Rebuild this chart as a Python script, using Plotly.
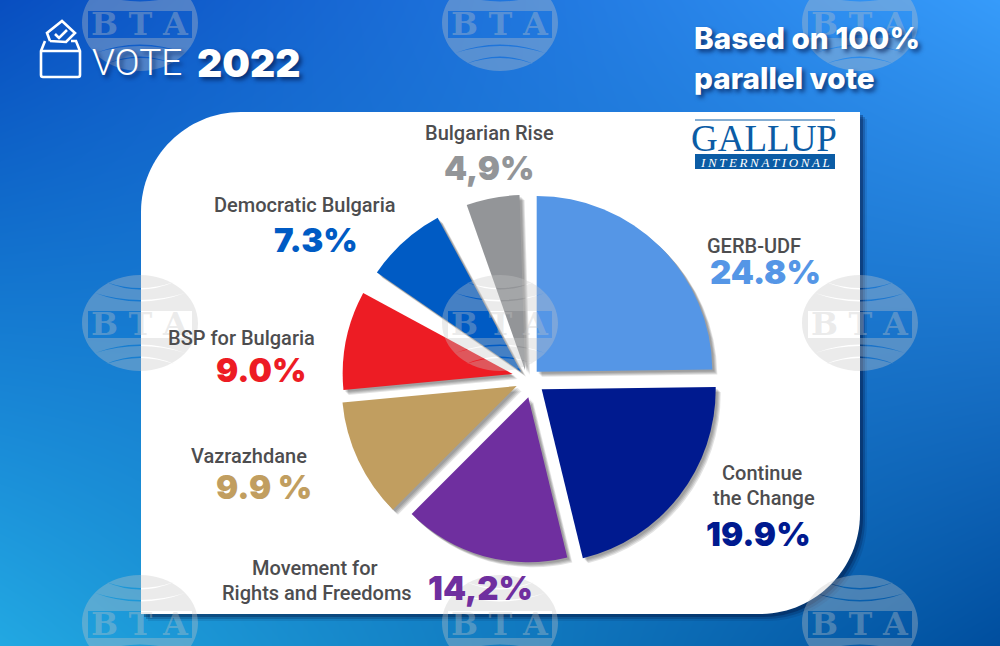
import base64
import struct
import zlib

import numpy as np
import plotly.graph_objects as go

WIDTH = 1000
HEIGHT = 646

# slice shares as measured on the drawn circle (the printed labels do not add up to 100),
# the empty names are the wider white gaps between slices
parties = ["GERB-UDF", "Continue the Change", "Movement for Rights and Freedoms", "Vazrazhdane",
           "BSP for Bulgaria", "", "Democratic Bulgaria", "", "Bulgarian Rise", ""]
slice_shares = [24.8, 21.4, 16.3, 11.0, 9.4, 1.7, 7.5, 2.5, 4.9, 0.5]
slice_colors = ["#5596e6", "#001a8f", "#6f2f9f", "#c19e60", "#ed1c24", None, "#005bc4", None, "#939598", None]

# every wedge is moved away from the centre on its own: tip x, tip y, radius
slice_tips = [(536.7, 371.7, 175.7), (541.7, 389.3, 174), (528.3, 397.3, 165), (516.7, 386, 175),
              (512.7, 374, 170), None, (521, 371.7, 175), None, (525, 370, 175), None]

NONE = "rgba(0,0,0,0)"
LABEL_GREY = "#4d4d4f"

party_labels = [
    ("Bulgarian Rise", 489, 133),
    ("Democratic Bulgaria", 305, 205),
    ("GERB-UDF", 754, 246),
    ("BSP for Bulgaria", 241, 338),
    ("Vazrazhdane", 249, 456),
    ("Continue", 762, 473),
    ("the Change", 764, 498),
    ("Movement for", 315, 568),
    ("Rights and Freedoms", 317, 593),
]
result_labels = [
    ("4,9%", 489, 168, "#939598"),
    ("7.3%", 316, 240, "#005bc4"),
    ("24.8%", 765, 272, "#5596e6"),
    ("9.0%", 261, 370, "#ed1c24"),
    ("9.9 %", 264, 487, "#c19e60"),
    ("19.9%", 758, 534, "#001a8f"),
    ("14,2%", 480, 588, "#6f2f9f"),
]

logo_columns = [140, 500, 860]
logo_rows = [23, 323, 623]


def pt(x, y):
    return f"{x / WIDTH:.5f},{1 - y / HEIGHT:.5f}"


def background_uri():
    # four corner colours blended across the page
    top_left = np.array([8, 78, 192.0])
    top_right = np.array([54, 155, 250.0])
    bottom_left = np.array([34, 168, 226.0])
    bottom_right = np.array([0, 78, 158.0])
    u = np.linspace(0, 1, WIDTH)[None, :, None]
    v = np.linspace(0, 1, HEIGHT)[:, None, None]
    rgb = (1 - v) * ((1 - u) * top_left + u * top_right) + v * ((1 - u) * bottom_left + u * bottom_right)
    rgb = rgb.round().astype(np.uint8)
    raw = b"".join(b"\x00" + row.tobytes() for row in rgb)

    def chunk(tag, data):
        body = tag + data
        return struct.pack(">I", len(data)) + body + struct.pack(">I", zlib.crc32(body))

    png = b"\x89PNG\r\n\x1a\n"
    png += chunk(b"IHDR", struct.pack(">IIBBBBB", WIDTH, HEIGHT, 8, 2, 0, 0, 0))
    png += chunk(b"IDAT", zlib.compress(raw, 9))
    png += chunk(b"IEND", b"")
    return "data:image/png;base64," + base64.b64encode(png).decode()


def panel_path(dx=0, dy=0):
    left, right, top, bottom, r = 141 + dx, 860 + dx, 112 + dy, 614 + dy, 100
    k = r * 0.45
    return (
        f"M{pt(left + r, top)} L{pt(right, top)} L{pt(right, bottom - r)} "
        f"C{pt(right, bottom - k)} {pt(right - k, bottom)} {pt(right - r, bottom)} "
        f"L{pt(left, bottom)} L{pt(left, top + r)} "
        f"C{pt(left, top + k)} {pt(left + k, top)} {pt(left + r, top)} Z"
    )


def logo_path(cx, cy):
    rx, ry = 58, 48
    kx, ky = rx * 0.5523, ry * 0.5523
    path = (
        f"M{pt(cx - rx, cy)} C{pt(cx - rx, cy - ky)} {pt(cx - kx, cy - ry)} {pt(cx, cy - ry)} "
        f"C{pt(cx + kx, cy - ry)} {pt(cx + rx, cy - ky)} {pt(cx + rx, cy)} "
        f"C{pt(cx + rx, cy + ky)} {pt(cx + kx, cy + ry)} {pt(cx, cy + ry)} "
        f"C{pt(cx - kx, cy + ry)} {pt(cx - rx, cy + ky)} {pt(cx - rx, cy)} Z "
    )
    # curved slits above and below the lettering
    for half, edge, dip in [(34, -41, 12), (45, -30, 14)]:
        for sign in (1, -1):
            y0 = cy + sign * edge
            y1 = cy + sign * (edge + dip)
            y2 = cy + sign * (edge + dip + 3)
            path += f"M{pt(cx - half, y0)} Q{pt(cx, y1)} {pt(cx + half, y0)} Q{pt(cx, y2)} {pt(cx - half, y0)} Z "
    # band behind the letters
    path += f"M{pt(cx - 52, cy - 12)} L{pt(cx + 52, cy - 12)} L{pt(cx + 52, cy + 15)} L{pt(cx - 52, cy + 15)} Z"
    return path


def wedge(index, color, cx, cy, radius):
    colors = [color if i == index else NONE for i in range(len(slice_shares))]
    return go.Pie(
        labels=parties,
        values=slice_shares,
        sort=False,
        direction="clockwise",
        rotation=0,
        textinfo="none",
        hoverinfo="skip",
        showlegend=False,
        marker=dict(colors=colors, line=dict(width=0)),
        domain=dict(
            x=[(cx - radius) / WIDTH, (cx + radius) / WIDTH],
            y=[1 - (cy + radius) / HEIGHT, 1 - (cy - radius) / HEIGHT],
        ),
    )


def note(text, x, y, size, color, family="Roboto", weight=500, **kwargs):
    return dict(
        text=text, x=x / WIDTH, y=1 - y / HEIGHT, xref="paper", yref="paper",
        showarrow=False, xanchor=kwargs.pop("xanchor", "center"), yanchor="middle",
        font=dict(family=family, size=size, color=color, weight=weight, **kwargs),
    )


fig = go.Figure()
for offset in (2, 3, 4, 5):
    for i, tip in enumerate(slice_tips):
        if tip:
            fig.add_trace(wedge(i, "rgba(0,0,0,0.11)", tip[0] + offset, tip[1] + offset, tip[2]))
for i, tip in enumerate(slice_tips):
    if tip:
        fig.add_trace(wedge(i, slice_colors[i], *tip))

shapes = []
for offset, alpha in [(7, 0.1), (5, 0.2), (3, 0.3)]:
    shapes.append(dict(type="path", xref="paper", yref="paper", layer="below", path=panel_path(offset, offset),
                       fillcolor=f"rgba(0,10,50,{alpha})", line=dict(width=0)))
shapes.append(dict(type="path", xref="paper", yref="paper", layer="below", path=panel_path(),
                   fillcolor="white", line=dict(width=0)))

# ballot box icon
icon = dict(type="path", xref="paper", yref="paper", fillcolor=NONE, line=dict(color="white", width=2.6))
shapes.append(dict(icon, path=f"M{pt(45, 41)} L{pt(41, 51)} L{pt(41, 75)} Q{pt(41, 77)} {pt(43, 77)} "
                              f"L{pt(78, 77)} Q{pt(80, 77)} {pt(80, 75)} L{pt(80, 51)} L{pt(76, 41)} L{pt(71, 41)}"))
shapes.append(dict(icon, path=f"M{pt(41, 51)} L{pt(80, 51)}"))
shapes.append(dict(icon, path=f"M{pt(50, 41)} L{pt(47, 33)} L{pt(62, 21)} L{pt(75, 33)} L{pt(66, 42)} L{pt(50, 41)}"))
shapes.append(dict(icon, path=f"M{pt(55, 34)} L{pt(59, 38)} L{pt(67, 30)}"))

# gallup logo
shapes.append(dict(type="line", xref="paper", yref="paper", x0=695 / WIDTH, x1=835 / WIDTH,
                   y0=1 - 120 / HEIGHT, y1=1 - 120 / HEIGHT, line=dict(color="#0b5ca5", width=1)))
shapes.append(dict(type="rect", xref="paper", yref="paper", x0=695 / WIDTH, x1=835 / WIDTH,
                   y0=1 - 169 / HEIGHT, y1=1 - 154 / HEIGHT, fillcolor="#0b5ca5", line=dict(width=0)))

for cy in logo_rows:
    for cx in logo_columns:
        shapes.append(dict(type="path", xref="paper", yref="paper", layer="above", path=logo_path(cx, cy),
                           fillcolor="rgba(198,198,198,0.35)", line=dict(width=0)))

annotations = []
for cy in logo_rows:
    for cx in logo_columns:
        annotations.append(note("B\u2004T\u2004A", cx, cy + 1, 32, "rgba(198,198,198,0.35)",
                                family="DejaVu Serif", weight=700))

for text, x, y in party_labels:
    annotations.append(note(text, x, y, 20, LABEL_GREY))
for text, x, y, color in result_labels:
    annotations.append(note(text, x, y, 33, color, family="Inter", weight=900))

TITLE_SHADOW = "3px 3px 4px rgba(0,20,70,0.65)"
annotations.append(note("VOTE", 137, 62, 37, "white", family="Roboto", weight=300, shadow=TITLE_SHADOW))
annotations.append(note("2022", 248, 62, 39, "white", family="Inter", weight=900, shadow=TITLE_SHADOW))
annotations.append(note("Based on 100%", 692, 38, 29.7, "white", family="Inter", weight=800,
                        xanchor="left", shadow=TITLE_SHADOW))
annotations.append(note("parallel vote", 692, 78, 29.7, "white", family="Inter", weight=800,
                        xanchor="left", shadow=TITLE_SHADOW))
annotations.append(note("GALLUP", 764, 138, 37, "#0b5ca5", family="Liberation Serif", weight=400))
annotations.append(note("<i>" + "\u2009".join("INTERNATIONAL") + "</i>", 765, 162, 13, "white",
                        family="Liberation Serif", weight=400))

fig.update_layout(
    width=WIDTH,
    height=HEIGHT,
    margin=dict(l=0, r=0, t=0, b=0),
    paper_bgcolor="rgba(0,0,0,0)",
    plot_bgcolor="rgba(0,0,0,0)",
    images=[dict(source=background_uri(), xref="paper", yref="paper", x=0, y=1, sizex=1, sizey=1,
                 xanchor="left", yanchor="top", sizing="stretch", layer="below")],
    shapes=shapes,
    annotations=annotations,
)

fig.write_html("out.html", config={"displayModeBar": False}, post_script="document.body.style.margin='0';")
